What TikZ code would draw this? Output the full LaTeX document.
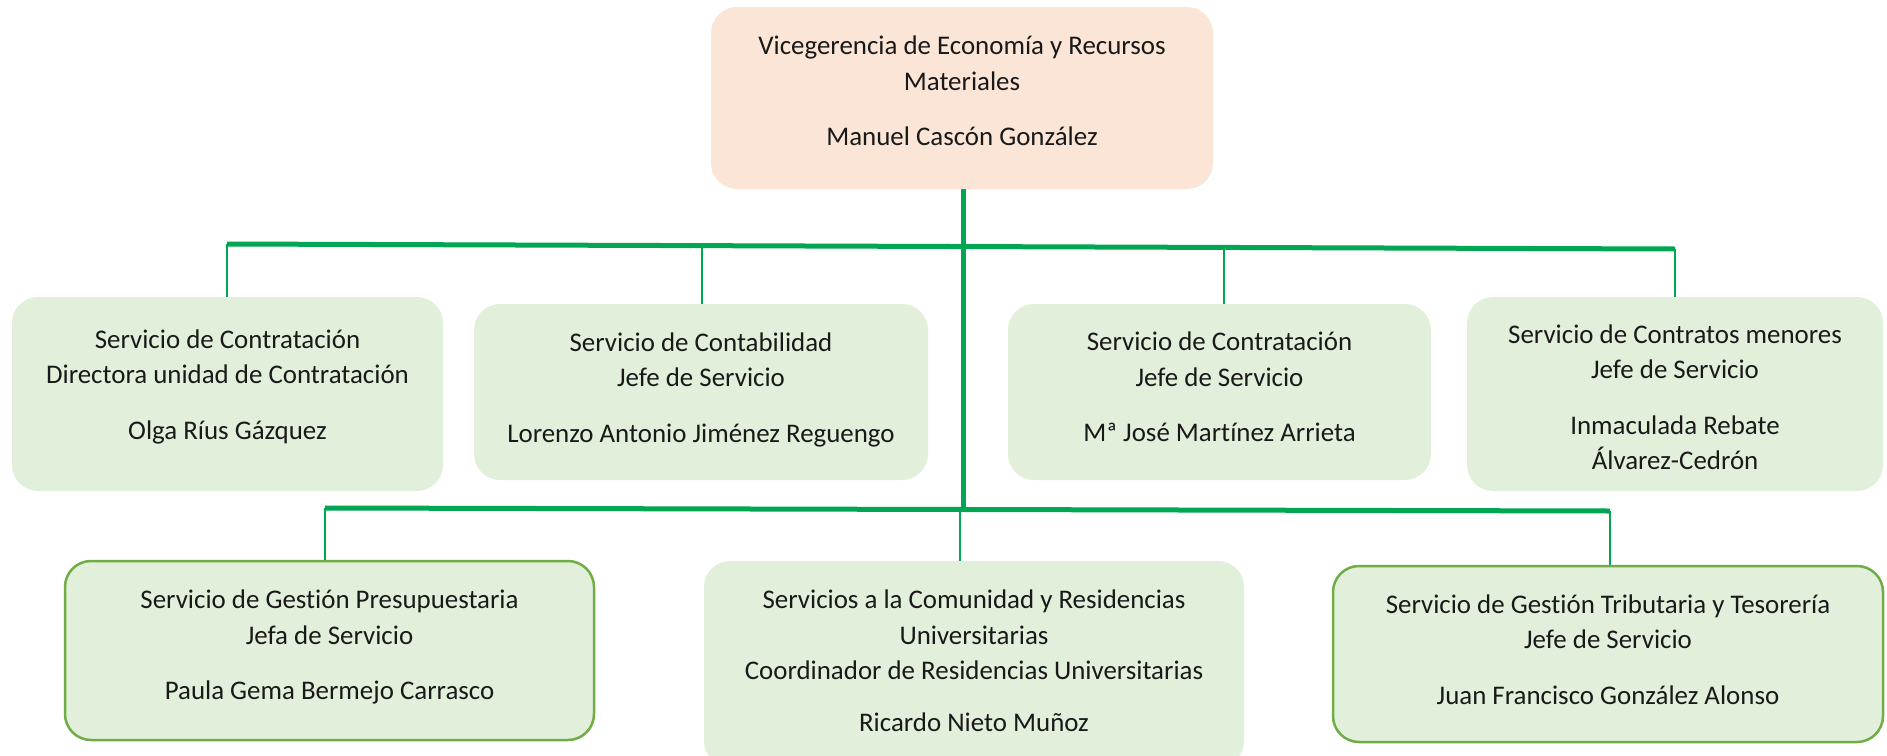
\documentclass[tikz,border=0pt]{standalone}
\usepackage{fontspec}
\setmainfont[Ligatures=NoCommon]{Carlito}
\definecolor{peach}{HTML}{FBE5D6}
\definecolor{lgreen}{HTML}{E2EFDA}
\definecolor{bgreen}{HTML}{70AD47}
\definecolor{cgreen}{RGB}{0,166,81}
\begin{document}
\begin{tikzpicture}[x=1pt,y=-1pt,
  box/.style={rounded corners=26pt, inner sep=0pt},
  topbox/.style={box, fill=peach},
  subbox/.style={box, fill=lgreen},
  subboxb/.style={box, fill=lgreen, draw=bgreen, line width=2.5pt},
  txt/.style={inner sep=0pt, align=center,
    font=\fontsize{26.9}{35.5}\selectfont, text=black!90},
  bar/.style={draw=cgreen, line width=5pt},
  drop/.style={draw=cgreen, line width=1.5pt}]
\useasboundingbox (0,0) rectangle (1887,755);
\clip (0,0) rectangle (1887,755);

% top
\node[topbox, minimum width=502pt, minimum height=182pt] (top) at (962,98) {};
\node[txt] (topt) at ([yshift=7pt]top.center)
  {Vicegerencia de Economía y Recursos\\Materiales\\[20pt]Manuel Cascón González};

% row 1
\node[subbox, minimum width=431pt, minimum height=194pt] (a1) at (227.5,394) {};
\node[txt] (a1t) at ([yshift=7.5pt]a1.center)
  {Servicio de Contratación\\Directora unidad de Contratación\\[20pt]Olga Ríus Gázquez};
\node[subbox, minimum width=454pt, minimum height=176pt] (a2) at (701,392) {};
\node[txt] (a2t) at ([yshift=2.5pt]a2.center)
  {Servicio de Contabilidad\\Jefe de Servicio\\[20pt]Lorenzo Antonio Jiménez Reguengo};
\node[subbox, minimum width=423pt, minimum height=176pt] (a3) at (1219.5,392) {};
\node[txt] (a3t) at ([yshift=5pt]a3.center)
  {Servicio de Contratación\\Jefe de Servicio\\[20pt]Mª José Martínez Arrieta};
\node[subbox, minimum width=416pt, minimum height=194pt] (a4) at (1675,394) {};
\node[txt] (a4t) at ([yshift=-3.5pt]a4.center)
  {Servicio de Contratos menores\\Jefe de Servicio\\[20pt]Inmaculada Rebate\\Álvarez-Cedrón};

% row 2
\node[subboxb, minimum width=529pt, minimum height=179pt] (b1) at (329.5,650.5) {};
\node[txt] (b1t) at ([yshift=3.5pt]b1.center)
  {Servicio de Gestión Presupuestaria\\Jefa de Servicio\\[20pt]Paula Gema Bermejo Carrasco};
\node[subbox, minimum width=540pt, minimum height=206pt] (b2) at (974,664) {};
\node[txt] (b2t) at ([yshift=3.5pt]b2.center)
  {Servicios a la Comunidad y Residencias\\Universitarias\\Coordinador de Residencias Universitarias\\[16pt]Ricardo Nieto Muñoz};
\node[subboxb, minimum width=550pt, minimum height=176pt] (b3) at (1608,654) {};
\node[txt] (b3t) at ([yshift=4.5pt]b3.center)
  {Servicio de Gestión Tributaria y Tesorería\\Jefe de Servicio\\[20pt]Juan Francisco González Alonso};

% connector geometry
\coordinate (uL) at (227,244);
\coordinate (uR) at (1675,249);
\coordinate (lL) at (325,508);
\coordinate (lR) at (1610,511);
\coordinate (tb) at (963,509);

\draw[bar] (top.south -| tb) -- (tb);
\draw[bar] (uL) -- (uR);
\draw[bar] (lL) -- (lR);

\draw[drop] (uL) -- (a1.north -| uL);
\draw[drop] (702,245.6) coordinate (u2) -- (a2.north -| u2);
\draw[drop] (1224,247.4) coordinate (u3) -- (a3.north -| u3);
\draw[drop] (uR) -- (a4.north -| uR);

\draw[drop] (lL) -- (b1.north -| lL);
\draw[drop] (960,509.5) coordinate (l2) -- (b2.north -| l2);
\draw[drop] (lR) -- (b3.north -| lR);
\end{tikzpicture}
\end{document}
